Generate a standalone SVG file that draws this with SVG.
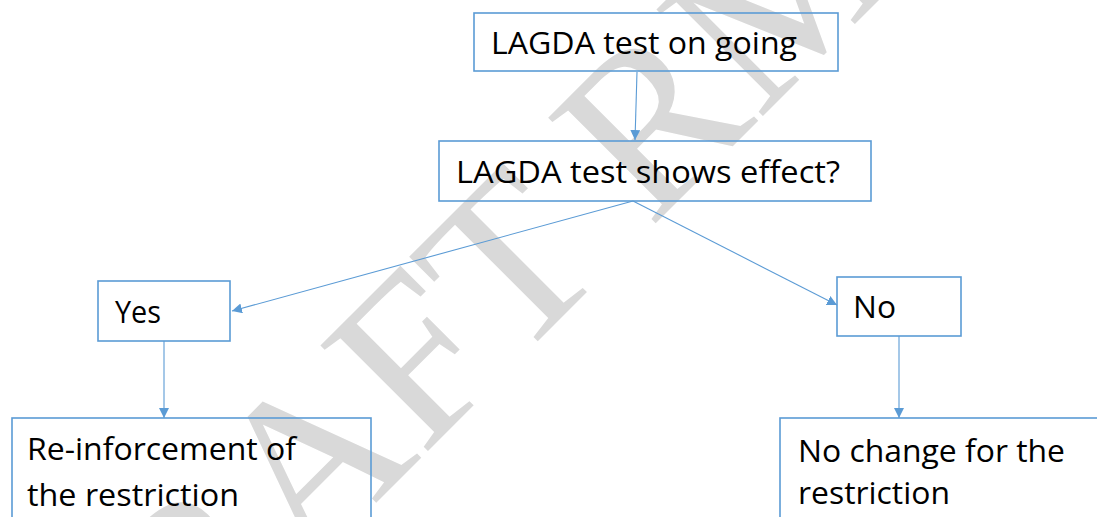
<svg xmlns="http://www.w3.org/2000/svg" width="1097" height="517" viewBox="0 0 1097 517">
  <defs>
    <marker id="arrow" viewBox="0 0 10 10" refX="10" refY="5" markerWidth="10" markerHeight="10" markerUnits="userSpaceOnUse" orient="auto">
      <path d="M0,0 L10,5 L0,10 z" fill="#5b9bd5"/>
    </marker>
  </defs>
  <style>
    .box { fill: none; stroke: #5b9bd5; stroke-width: 1.6; }
    .label { font-family: "Open Sans", "Noto Sans", sans-serif; font-size: 31px; fill: #000; }
    .conn { fill: none; stroke: #5b9bd5; stroke-width: 1.1; marker-end: url(#arrow); }
    .mark { font-family: "Liberation Serif", "DejaVu Serif", serif; font-size: 230px; fill: #d9d9d9; }
  </style>
  <rect width="1097" height="517" fill="#ffffff"/>

  <!-- background watermark -->
  <text class="mark" transform="translate(79 800) rotate(-45)">DRAFT RM</text>

  <g id="connectors">
    <line class="conn" x1="637" y1="72" x2="635" y2="140"/>
    <line class="conn" x1="633" y1="201" x2="232" y2="311"/>
    <line class="conn" x1="633" y1="201" x2="837" y2="305"/>
    <line class="conn" x1="164" y1="341" x2="164" y2="418"/>
    <line class="conn" x1="899" y1="336" x2="899" y2="418"/>
  </g>

  <g id="node-ongoing">
    <rect class="box" x="474" y="13" width="364" height="58"/>
    <text class="label" x="491" y="54" textLength="306" lengthAdjust="spacingAndGlyphs">LAGDA test on going</text>
  </g>

  <g id="node-effect">
    <rect class="box" x="439" y="141" width="432" height="60"/>
    <text class="label" x="456" y="183" textLength="384" lengthAdjust="spacingAndGlyphs">LAGDA test shows effect?</text>
  </g>

  <g id="node-yes">
    <rect class="box" x="98" y="281" width="132" height="60"/>
    <text class="label" x="115" y="323" textLength="46" lengthAdjust="spacingAndGlyphs">Yes</text>
  </g>

  <g id="node-no">
    <rect class="box" x="837" y="277" width="124" height="59"/>
    <text class="label" x="853" y="318" textLength="43" lengthAdjust="spacingAndGlyphs">No</text>
  </g>

  <g id="node-reinforce">
    <rect class="box" x="12" y="418" width="359" height="120"/>
    <text class="label" x="27" y="460" textLength="269" lengthAdjust="spacingAndGlyphs">Re-inforcement of</text>
    <text class="label" x="27" y="506" textLength="212" lengthAdjust="spacingAndGlyphs">the restriction</text>
  </g>

  <g id="node-nochange">
    <rect class="box" x="780" y="418" width="340" height="120"/>
    <text class="label" x="798" y="462" textLength="267" lengthAdjust="spacingAndGlyphs">No change for the</text>
    <text class="label" x="798" y="504" textLength="152" lengthAdjust="spacingAndGlyphs">restriction</text>
  </g>
</svg>
